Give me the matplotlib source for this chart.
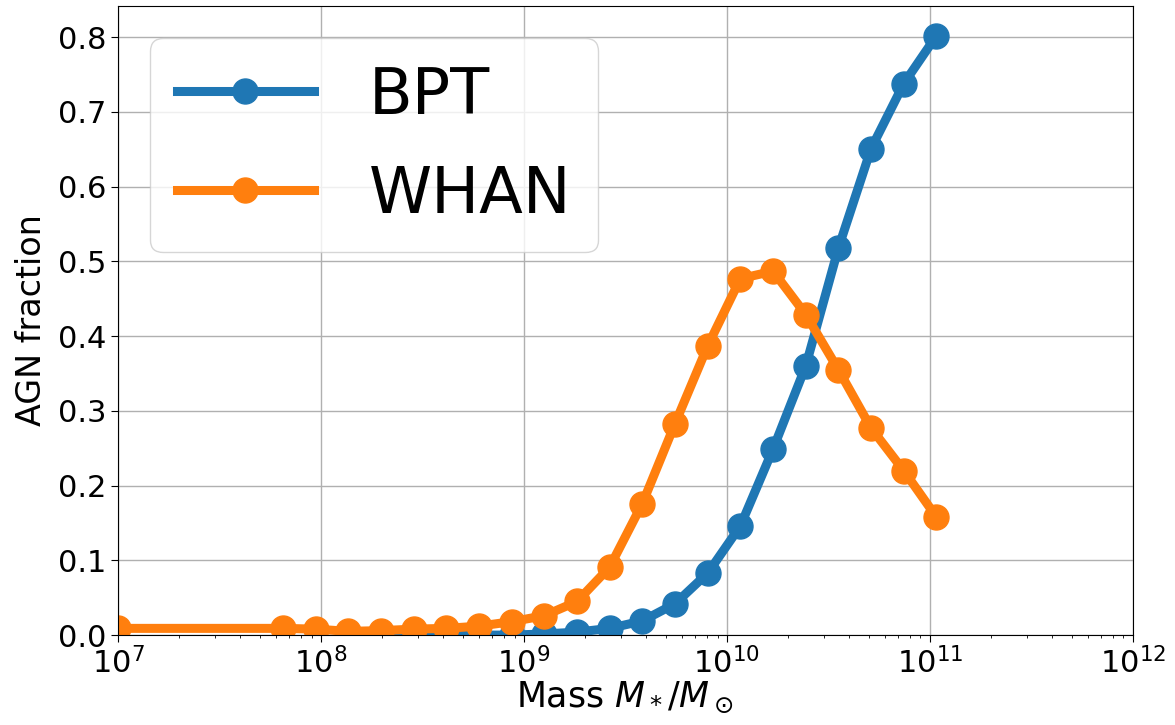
import numpy as np
import matplotlib
matplotlib.use("Agg")
import matplotlib.pyplot as plt

# log10 of stellar mass bins
log_mass_whan = [7.0, 7.813, 7.974, 8.135, 8.296, 8.457, 8.618, 8.779, 8.94, 9.101,
                 9.262, 9.423, 9.584, 9.745, 9.906, 10.067, 10.228, 10.389,
                 10.55, 10.711, 10.872, 11.033]
whan_frac = [0.009, 0.009, 0.008, 0.005, 0.006, 0.008, 0.009, 0.012, 0.018, 0.026,
             0.045, 0.091, 0.176, 0.283, 0.387, 0.477, 0.487, 0.429,
             0.355, 0.277, 0.220, 0.158]

log_mass_bpt = [8.296, 8.457, 8.618, 8.779, 8.94, 9.101, 9.262, 9.423, 9.584, 9.745,
                9.906, 10.067, 10.228, 10.389, 10.55, 10.711, 10.872, 11.033]
bpt_frac = [0.0, 0.0, 0.0, 0.0, 0.0, 0.0015, 0.004, 0.009, 0.019, 0.042,
            0.083, 0.146, 0.249, 0.360, 0.518, 0.651, 0.738, 0.802]

fig = plt.figure(figsize=(11.75, 7.25), dpi=100)
ax = fig.add_axes([0.1004, 0.124, 0.8636, 0.868])

ax.plot(10 ** np.array(log_mass_bpt), bpt_frac, marker="o", lw=6.5, ms=18,
        color="#1f77b4", label="BPT")
ax.plot(10 ** np.array(log_mass_whan), whan_frac, marker="o", lw=6.5, ms=18,
        color="#ff7f0e", label="WHAN")

ax.set_xscale("log")
ax.set_xlim(1e7, 1e12)
ax.set_ylim(bottom=0)
ax.grid(True, which="major", color="#b0b0b0", lw=1)
ax.tick_params(axis="both", which="major", labelsize=22, length=5)
ax.set_xlabel(r"Mass $M_*/M_\odot$", fontsize=25, labelpad=0)
ax.set_ylabel("AGN fraction", fontsize=24, labelpad=7)

leg = ax.legend(loc="upper left", fontsize=46, handlelength=2.15,
                handletextpad=0.85, borderpad=0.42, labelspacing=0.58)

fig.savefig("out.png", dpi=100)
